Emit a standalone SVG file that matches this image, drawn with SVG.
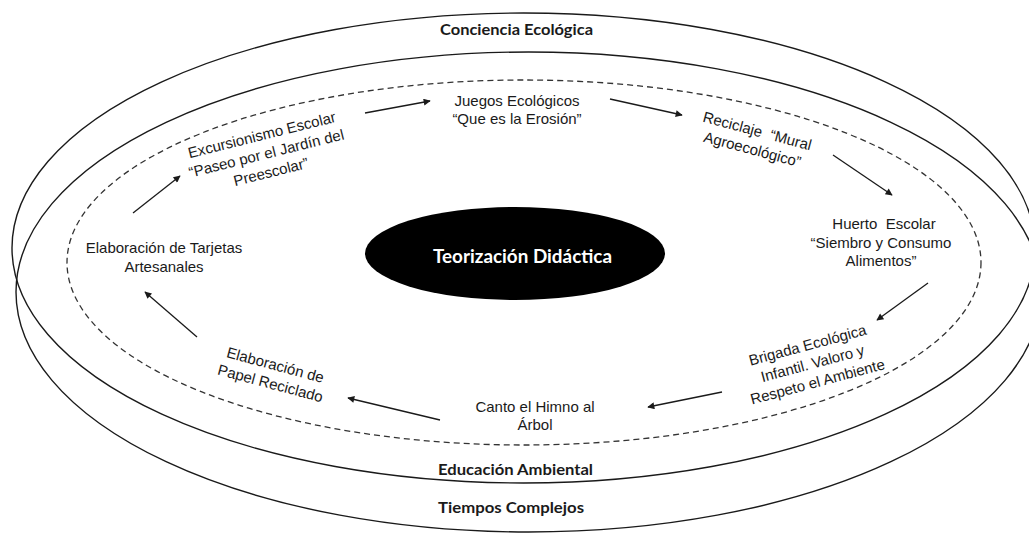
<svg xmlns="http://www.w3.org/2000/svg" width="1029" height="535" viewBox="0 0 1029 535">
  <style>
    .ring { fill: none; stroke: #1a1a1a; stroke-width: 1.4; }
    .dash { fill: none; stroke: #333; stroke-width: 1.3; stroke-dasharray: 6 4; }
    .lbl { font-family: "Liberation Sans", Arial, sans-serif; font-size: 15px; fill: #1a1a1a; text-anchor: middle; }
    .bold { font-family: Lato, "Open Sans", sans-serif; font-weight: bold; font-size: 15px; fill: #1a1a1a; }
    .conn { fill: none; stroke: #1a1a1a; stroke-width: 1.3; marker-end: url(#ah); }
  </style>
  <defs>
    <marker id="ah" viewBox="0 0 10 10" refX="9" refY="5" markerWidth="9" markerHeight="7" markerUnits="userSpaceOnUse" orient="auto">
      <path d="M0,0 L10,5 L0,10 z" fill="#1a1a1a"/>
    </marker>
  </defs>
  <rect width="1029" height="535" fill="#ffffff"/>

  <g id="rings">
    <ellipse id="ring-conciencia" class="ring" cx="523.5" cy="248" rx="511.5" ry="235"/>
    <ellipse id="ring-tiempos" class="ring" cx="528.5" cy="292" rx="512.5" ry="240"/>
    <ellipse id="ring-dashed" class="dash" cx="524" cy="262.5" rx="457" ry="182.5"/>
  </g>

  <g id="label-conciencia"><text class="bold" x="440" y="35" textLength="153" lengthAdjust="spacingAndGlyphs">Conciencia Ecológica</text></g>
  <g id="label-educacion"><text class="bold" x="438" y="475" textLength="155" lengthAdjust="spacingAndGlyphs">Educación Ambiental</text></g>
  <g id="label-tiempos"><text class="bold" x="438" y="513" textLength="146" lengthAdjust="spacingAndGlyphs">Tiempos Complejos</text></g>

  <g id="node-teorizacion">
    <ellipse cx="515" cy="253.5" rx="150" ry="46.5" fill="#000"/>
    <text x="433" y="263" font-family="Lato, 'Open Sans', sans-serif" font-weight="bold" font-size="18" fill="#ffffff" textLength="179" lengthAdjust="spacingAndGlyphs">Teorización Didáctica</text>
  </g>

  <g id="node-juegos">
    <text class="lbl" x="517" y="106">Juegos Ecológicos</text>
    <text class="lbl" x="517" y="124">“Que es la Erosión”</text>
  </g>

  <g id="node-reciclaje" transform="translate(756 136) rotate(15)">
    <text class="lbl" x="0" y="0" xml:space="preserve">Reciclaje  “Mural</text>
    <text class="lbl" x="0" y="19">Agroecológico”</text>
  </g>

  <g id="node-huerto">
    <text class="lbl" x="884" y="229" xml:space="preserve">Huerto  Escolar</text>
    <text class="lbl" x="881" y="248">“Siembro y Consumo</text>
    <text class="lbl" x="881" y="266">Alimentos”</text>
  </g>

  <g id="node-brigada" transform="translate(809 350) rotate(-15)">
    <text class="lbl" x="0" y="0">Brigada Ecológica</text>
    <text class="lbl" x="0" y="19">Infantil. Valoro y</text>
    <text class="lbl" x="0" y="38">Respeto el Ambiente</text>
  </g>

  <g id="node-canto">
    <text class="lbl" x="535" y="412">Canto el Himno al</text>
    <text class="lbl" x="535" y="430">Árbol</text>
  </g>

  <g id="node-papel" transform="translate(274 370) rotate(15)">
    <text class="lbl" x="0" y="0">Elaboración de</text>
    <text class="lbl" x="0" y="19">Papel Reciclado</text>
  </g>

  <g id="node-tarjetas">
    <text class="lbl" x="164" y="253">Elaboración de Tarjetas</text>
    <text class="lbl" x="164" y="272">Artesanales</text>
  </g>

  <g id="node-excursionismo" transform="translate(263 140) rotate(-14)">
    <text class="lbl" x="0" y="0">Excursionismo Escolar</text>
    <text class="lbl" x="0" y="19">“Paseo por el Jardín del</text>
    <text class="lbl" x="0" y="38">Preescolar”</text>
  </g>

  <g id="connectors">
    <line class="conn" x1="133" y1="213" x2="180" y2="176"/>
    <line class="conn" x1="365" y1="113" x2="430" y2="101"/>
    <line class="conn" x1="610" y1="99" x2="682" y2="115"/>
    <line class="conn" x1="833" y1="155" x2="892" y2="195"/>
    <line class="conn" x1="928" y1="283" x2="877" y2="320"/>
    <line class="conn" x1="722" y1="392" x2="648" y2="407"/>
    <line class="conn" x1="440" y1="420" x2="348" y2="398"/>
    <line class="conn" x1="197" y1="337" x2="145" y2="292"/>
  </g>
</svg>
